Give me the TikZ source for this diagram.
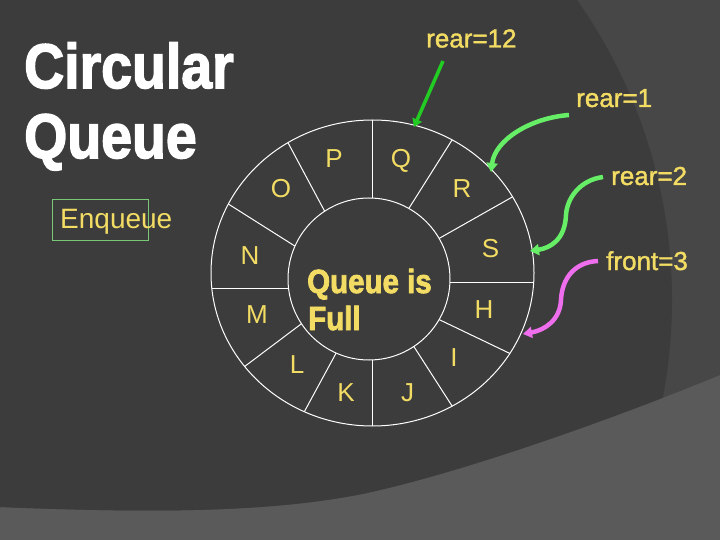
\documentclass[tikz,border=0pt]{standalone}
\usepackage{fontspec}
\setmainfont{Liberation Sans}
\newfontfamily\labfont[FakeBold=1.5]{Liberation Sans}
\newfontfamily\heavyfont[BoldFeatures={FakeBold=2.5}]{Liberation Sans}
\usetikzlibrary{arrows.meta,calc}
\definecolor{bgdark}{HTML}{3C3C3C}
\definecolor{bgband}{HTML}{474747}
\definecolor{bgbottom}{HTML}{5A5A5A}
\definecolor{txtyellow}{HTML}{F2DC64}
\definecolor{darkgreen}{HTML}{22CC22}
\definecolor{lightgreen}{HTML}{66EE66}
\definecolor{pinkish}{HTML}{EE6EEE}
\definecolor{boxgreen}{HTML}{78C878}
\begin{document}
\begin{tikzpicture}[x=1pt,y=-1pt,
  letter/.style={anchor=base, inner sep=0pt, text=txtyellow, font=\fontsize{26}{30}\selectfont},
  lab/.style={anchor=base west, inner sep=0pt, text=txtyellow, font=\labfont\fontsize{26}{30}\selectfont},
  titletext/.style={anchor=base west, inner sep=0pt, text=white, font=\heavyfont\bfseries\fontsize{63}{70}\selectfont},
  fulltext/.style={anchor=base west, inner sep=0pt, text=txtyellow, font=\heavyfont\bfseries\fontsize{33.5}{38}\selectfont},
  ring/.style={draw=white, line width=1pt},
  ptr/.style={line width=4.5pt, -{Triangle[length=9pt,width=11pt]}},
  ptrthin/.style={line width=3.5pt, -{Triangle[length=8pt,width=10pt]}}]
\useasboundingbox (0,0) rectangle (720,540);
% background
\fill[bgbottom] (0,0) rectangle (720,540);
\begin{scope}
  \clip (0,0) -- (720,0) -- (720,375) .. controls (640,408) and (480,468) .. (367,493)
        .. controls (270,513) and (150,513) .. (0,507) -- cycle;
  \fill[bgband] (0,0) rectangle (720,540);
  \fill[bgdark] (151,300) circle[radius=521pt];
\end{scope}
% title
\node[titletext] (title1) at (24,88) {\scalebox{0.88}[1]{Circular}};
\node[titletext] (title2) at (24,158) {\scalebox{0.88}[1]{Queue}};
% enqueue
\node[draw=boxgreen, line width=1pt, minimum width=96pt, minimum height=41pt, inner sep=0pt, anchor=north west] (enqbox) at (52,199) {};
\node[anchor=base west, inner sep=0pt, text=txtyellow, font=\fontsize{28}{32}\selectfont] (enq) at (60,229) {Enqueue};
% ring dividers
\begin{scope}
  \clip (372.5,273) ellipse [x radius=161.5pt, y radius=153pt];
  \foreach \ox/\oy/\ix/\iy in {372.3/120.7/372.3/198.3, 288.3/143.3/324/210, 228.3/204/294.3/245.7,
      210.7/288.3/288.3/288.3, 245.7/365.7/300.7/324.3, 306.7/407.3/336/353.3,
      372.3/426/372.3/360, 449.3/401.7/415/348.3, 508.3/352.7/440/320,
      534/282.7/450/282.7, 510/198.3/439.3/238.3, 449.3/144.3/409.3/207.7}
    \draw[ring] ($(\ix,\iy)!-0.5!(\ox,\oy)$) -- ($(\ox,\oy)!-0.5!(\ix,\iy)$);
\end{scope}
\fill[bgdark] (369,279) circle[radius=81pt];
\draw[ring] (369,279) circle[radius=81pt];
\draw[ring] (372.5,273) ellipse [x radius=161.5pt, y radius=153pt];
% sector letters
\node[letter] (P) at (334,168) {P};
\node[letter] (Q) at (401,168) {Q};
\node[letter] (R) at (462,198) {R};
\node[letter] (S) at (490.5,257) {S};
\node[letter] (H) at (484,318) {H};
\node[letter] (I) at (454,366) {I};
\node[letter] (J) at (407.5,401) {J};
\node[letter] (K) at (346,401) {K};
\node[letter] (L) at (297,373) {L};
\node[letter] (M) at (257,323) {M};
\node[letter] (N) at (250,264) {N};
\node[letter] (O) at (281,198) {O};
% centre text
\node[fulltext] (full1) at (307,293) {\scalebox{0.88}[1]{Queue is}};
\node[fulltext] (full2) at (308,330) {\scalebox{0.88}[1]{Full}};
% pointer labels
\node[lab] (r12) at (426,47.5) {rear=12};
\node[lab] (r1) at (576,107) {rear=1};
\node[lab] (r2) at (611,185) {rear=2};
\node[lab] (f3) at (606,270) {front=3};
% pointer arrows
\coordinate (r12s) at (443,61);
\coordinate (r12e) at (414,127);
\coordinate (r1s) at (569,115);
\coordinate (r1e) at (491,172);
\coordinate (r2s) at (603,177);
\coordinate (r2m) at (566,215);
\coordinate (r2e) at (530,251);
\coordinate (f3s) at (598,261);
\coordinate (f3m) at (561,300);
\coordinate (f3e) at (523,334);
\draw[ptrthin, darkgreen] (r12s) -- (r12e);
\draw[ptr, lightgreen] (r1s) .. controls (530,118) and (495,140) .. (r1e);
\draw[ptr, lightgreen] (r2s) .. controls (580,180) and (567,198) .. (r2m)
      .. controls (565,240) and (550,248) .. (r2e);
\draw[ptr, pinkish] (f3s) .. controls (575,262) and (562,278) .. (f3m)
      .. controls (560,320) and (545,330) .. (f3e);
\end{tikzpicture}
\end{document}
